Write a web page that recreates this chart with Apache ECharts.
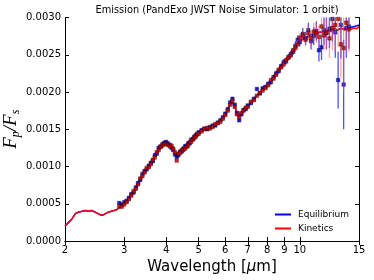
<!DOCTYPE html>
<html>
<head>
<meta charset="utf-8">
<script src="https://cdn.jsdelivr.net/npm/echarts@6/dist/echarts.min.js"></script>
<style>html,body{margin:0;padding:0;background:#fff;}#c{width:374px;height:280px;}</style>
</head>
<body>
<div id="c"></div>
<script>
const xTicks = [2, 3, 4, 5, 6, 7, 8, 9, 10, 15];

const modelWl = [2.0,2.05,2.1,2.15,2.2,2.25,2.3,2.35,2.4,2.45,2.5,2.55,2.6,2.65,2.7,2.75,2.8,2.85,2.9,2.95,
  3.0,3.1,3.2,3.3,3.4,3.5,3.6,3.7,3.8,3.9,4.0,4.05,4.1,4.15,4.2,4.25,4.3,4.35,4.4,4.5,
  4.6,4.7,4.8,4.9,5.0,5.2,5.4,5.6,5.8,6.0,6.1,6.2,6.25,6.3,6.4,6.5,6.6,6.7,6.8,7.0,
  7.2,7.4,7.6,7.8,8.0,8.3,8.6,8.9,9.2,9.5,9.8,10.0,10.3,10.6,10.9,11.2,11.5,11.8,12.1,12.4,
  12.7,13.0,13.3,13.6,13.9,14.2,14.5,14.8,15.0];

const kineticsModel = [0.00020,0.00025,0.00030,0.00037,0.00039,0.00040,0.00041,0.00040,0.00041,0.00039,0.00037,0.00035,0.00035,0.00037,0.00039,0.00040,0.00041,0.00042,0.00044,0.00046,
  0.00049,0.00057,0.00066,0.00077,0.00088,0.00097,0.00104,0.00113,0.00123,0.00129,0.00131,0.00130,0.00128,0.00128,0.00124,0.00119,0.00114,0.00116,0.00119,0.00123,
  0.00127,0.00132,0.00136,0.00141,0.00145,0.00150,0.00152,0.00156,0.00161,0.00170,0.00176,0.00184,0.00188,0.00187,0.00181,0.00171,0.00166,0.00171,0.00175,0.00181,
  0.00187,0.00194,0.00199,0.00204,0.00209,0.00218,0.00229,0.00238,0.00245,0.00254,0.00264,0.00268,0.00272,0.00274,0.00276,0.00278,0.00281,0.00279,0.00283,0.00281,
  0.00285,0.00283,0.00286,0.00283,0.00286,0.00284,0.00286,0.00285,0.00288];

const equilibriumModel = [0.00020,0.00025,0.00030,0.00037,0.00039,0.00040,0.00041,0.00040,0.00041,0.00039,0.00037,0.00035,0.00035,0.00037,0.00039,0.00040,0.00041,0.00042,0.00045,0.00047,
  0.00050,0.00058,0.00066,0.00077,0.00088,0.00097,0.00104,0.00113,0.00123,0.00129,0.00131,0.00130,0.00128,0.00128,0.00124,0.00119,0.00114,0.00116,0.00119,0.00123,
  0.00127,0.00132,0.00136,0.00141,0.00145,0.00150,0.00152,0.00156,0.00161,0.00170,0.00176,0.00184,0.00188,0.00187,0.00181,0.00171,0.00166,0.00171,0.00175,0.00181,
  0.00187,0.00194,0.00199,0.00204,0.00209,0.00218,0.00229,0.00238,0.00245,0.00254,0.00264,0.00268,0.00273,0.00275,0.00277,0.00279,0.00280,0.00281,0.00282,0.00283,
  0.00283,0.00284,0.00285,0.00285,0.00286,0.00287,0.00288,0.00289,0.00290];

const pointWl = [2.90,2.95,3.00,3.05,3.10,3.15,3.20,3.25,3.30,3.35,3.40,3.45,3.50,3.55,3.60,3.65,3.70,3.75,3.80,3.85,
  3.90,3.95,4.00,4.05,4.10,4.15,4.20,4.25,4.30,4.35,4.40,4.45,4.50,4.55,4.60,4.65,4.70,4.75,4.80,4.85,
  4.90,4.95,5.00,
  5.1,5.2,5.3,5.4,5.5,5.6,5.7,5.8,5.9,6.0,6.1,6.2,6.3,6.4,6.5,6.6,6.7,6.8,6.9,7.0,
  7.15,7.3,7.45,7.6,7.75,7.9,8.05,8.2,8.35,8.5,8.65,8.8,8.95,9.1,9.25,9.4,9.55,9.7,9.85,10.0,
  10.2,10.4,10.6,10.8,11.0,11.2,11.4,11.6,11.8,12.0,
  12.25,12.5,12.75,13.0,13.25,13.5,13.75,14.0];

const equilibriumPts = [0.00051,0.00049,0.00052,0.00054,0.00058,0.00063,0.00065,0.00072,0.00078,0.00082,0.00090,0.00094,0.00096,0.00101,0.00105,0.00107,0.00115,0.00117,0.00125,0.00127,
  0.00130,0.00132,0.00133,0.00131,0.00129,0.00125,0.00122,0.00116,0.00113,0.00115,0.00120,0.00120,0.00124,0.00127,0.00128,0.00131,0.00131,0.00136,0.00137,0.00140,
  0.00142,0.00143,0.00146,
  0.00149,0.00151,0.00150,0.00153,0.00155,0.00155,0.00159,0.00162,0.00166,0.00171,0.00177,0.00186,0.00191,0.00183,0.00172,0.00162,0.00170,0.00176,0.00177,0.00182,
  0.00185,0.00191,0.00204,0.00198,0.00205,0.00207,0.00211,0.00213,0.00220,0.00225,0.00228,0.00235,0.00240,0.00241,0.00247,0.00251,0.00254,0.00262,0.00270,0.00267,
  0.00278,0.00272,0.00283,0.00268,0.00275,0.00282,0.00256,0.00260,0.00283,0.00279,
  0.00285,0.00298,0.00280,0.00216,0.00290,0.00210,0.00286,0.00288];

const kineticsPts = [0.00047,0.00046,0.00049,0.00052,0.00056,0.00061,0.00067,0.00070,0.00076,0.00084,0.00087,0.00092,0.00098,0.00099,0.00103,0.00109,0.00112,0.00119,0.00122,0.00126,
  0.00128,0.00130,0.00130,0.00129,0.00127,0.00128,0.00124,0.00119,0.00108,0.00117,0.00118,0.00122,0.00122,0.00124,0.00126,0.00128,0.00133,0.00133,0.00136,0.00138,
  0.00140,0.00144,0.00144,
  0.00147,0.00150,0.00152,0.00151,0.00153,0.00157,0.00158,0.00160,0.00164,0.00169,0.00175,0.00183,0.00188,0.00180,0.00170,0.00166,0.00172,0.00175,0.00179,0.00180,
  0.00187,0.00189,0.00195,0.00199,0.00202,0.00205,0.00209,0.00216,0.00218,0.00223,0.00230,0.00233,0.00237,0.00243,0.00246,0.00249,0.00256,0.00259,0.00264,0.00273,
  0.00276,0.00270,0.00279,0.00272,0.00281,0.00279,0.00274,0.00288,0.00276,0.00280,
  0.00272,0.00286,0.00290,0.00298,0.00264,0.00259,0.00293,0.00284];

const pointErr = [0.000025,0.000025,0.000025,0.00002,0.00002,0.00002,0.00002,0.00002,0.00002,0.00002,0.00002,0.00002,0.00002,0.00002,0.00002,0.00002,0.00002,0.00002,0.00002,0.00002,
  0.00002,0.00002,0.00002,0.00002,0.00002,0.00002,0.00002,0.00002,0.00002,0.00002,0.00002,0.00002,0.000025,0.000025,0.000025,0.000025,0.000025,0.000025,0.000025,0.000025,
  0.000025,0.000025,0.000025,
  0.00002,0.00002,0.00002,0.00002,0.00002,0.00002,0.00002,0.00002,0.00002,0.00002,0.00002,0.00002,0.00002,0.00002,0.00002,0.00002,0.00002,0.00002,0.00002,0.00002,
  0.00002,0.00002,0.00002,0.00002,0.00002,0.00002,0.00003,0.00003,0.00003,0.00003,0.00003,0.00003,0.00004,0.00004,0.00004,0.00004,0.00004,0.00006,0.00006,0.00006,
  0.00008,0.00009,0.00010,0.00011,0.00012,0.00013,0.00015,0.00017,0.00020,0.00022,
  0.00026,0.00030,0.00034,0.00038,0.00045,0.00060,0.00040,0.00030];

const zipXY = (xs, ys) => xs.map((x, i) => [x, ys[i]]);
const zipErr = (xs, ys, es) => xs.map((x, i) => [x, ys[i], es[i]]);

function errRender(color, opacity) {
  return function (params, api) {
    const x = api.value(0), y = api.value(1), e = api.value(2);
    const p1 = api.coord([x, y - e]);
    const p2 = api.coord([x, y + e]);
    return {
      type: 'line',
      shape: { x1: p1[0], y1: p1[1], x2: p2[0], y2: p2[1] },
      style: { stroke: color, lineWidth: 1.3, opacity: opacity }
    };
  };
}

const FONT = 'DejaVu Sans';
const chart = echarts.init(document.getElementById('c'), null, { renderer: 'canvas' });
const axisLineStyle = { color: '#000', width: 1 };

chart.setOption({
  animation: false,
  backgroundColor: '#fff',
  textStyle: { fontFamily: FONT },
  title: {
    text: 'Emission (PandExo JWST Noise Simulator: 1 orbit)',
    left: 212, top: 0, textAlign: 'center',
    textStyle: { fontFamily: FONT, fontSize: 9.8, fontWeight: 'normal', color: '#000' }
  },
  grid: { left: 65, right: 15, top: 17.5, bottom: 39, containLabel: false, outerBoundsMode: 'none' },
  legend: {
    orient: 'vertical', left: 270, top: 205, itemWidth: 16, itemHeight: 2, itemGap: 5,
    textStyle: { fontFamily: FONT, fontSize: 9, color: '#000', padding: [0, 0, 0, 2] },
    data: [{ name: 'Equilibrium', icon: 'rect' }, { name: 'Kinetics', icon: 'rect' }]
  },
  xAxis: [{
    type: 'log', logBase: 10, min: 2, max: 15,
    name: 'Wavelength [{m|μ}m]', nameLocation: 'middle', nameGap: 19, nameMoveOverlap: false,
    nameTextStyle: { fontFamily: FONT, fontSize: 15, color: '#000',
      rich: { m: { fontFamily: 'DejaVu Sans', fontStyle: 'italic', fontSize: 15, color: '#000' } } },
    axisLine: { show: true, lineStyle: axisLineStyle },
    axisTick: { show: true, inside: true, length: 4, lineStyle: axisLineStyle, customValues: xTicks },
    axisLabel: { fontFamily: FONT, fontSize: 10, color: '#000', margin: 4, customValues: xTicks },
    minorTick: { show: false }, splitLine: { show: false }
  }, {
    type: 'log', logBase: 10, min: 2, max: 15, position: 'top',
    axisLine: { show: true, lineStyle: axisLineStyle },
    axisTick: { show: true, inside: true, length: 4, lineStyle: axisLineStyle, customValues: xTicks },
    axisLabel: { show: false }, splitLine: { show: false }
  }],
  yAxis: [{
    type: 'value', min: 0, max: 0.003, interval: 0.0005,
    name: '{i|F}{s|p}{i|/F}{s|s}', nameLocation: 'middle', nameGap: 43, nameRotate: 90, nameMoveOverlap: false,
    nameTextStyle: { rich: {
      i: { fontFamily: 'Liberation Serif', fontStyle: 'italic', fontSize: 19, lineHeight: 22, color: '#000' },
      s: { fontFamily: 'Liberation Serif', fontStyle: 'italic', fontSize: 12, lineHeight: 10, verticalAlign: 'bottom', color: '#000' }
    } },
    axisLine: { show: true, lineStyle: axisLineStyle },
    axisTick: { show: true, inside: true, length: 4, lineStyle: axisLineStyle },
    axisLabel: { fontFamily: FONT, fontSize: 10, color: '#000', margin: 4, formatter: v => v.toFixed(4) },
    splitLine: { show: false }
  }, {
    type: 'value', min: 0, max: 0.003, interval: 0.0005, position: 'right',
    axisLine: { show: true, lineStyle: axisLineStyle },
    axisTick: { show: true, inside: true, length: 4, lineStyle: axisLineStyle },
    axisLabel: { show: false }, splitLine: { show: false }
  }],
  series: [
    { name: 'Equilibrium', type: 'line', data: zipXY(modelWl, equilibriumModel), showSymbol: false,
      lineStyle: { color: '#0000ff', width: 1.5 }, itemStyle: { color: '#0000ff' }, z: 2 },
    { name: 'Kinetics', type: 'line', data: zipXY(modelWl, kineticsModel), showSymbol: false,
      lineStyle: { color: '#ff0000', width: 1.5 }, itemStyle: { color: '#ff0000' }, z: 3 },
    { name: 'eqErr', type: 'custom', data: zipErr(pointWl, equilibriumPts, pointErr), encode: { x: 0, y: 1 },
      renderItem: errRender('#3030ff', 0.85), clip: true, z: 4 },
    { name: 'eqPts', type: 'scatter', data: zipXY(pointWl, equilibriumPts), symbol: 'rect', symbolSize: 3.5,
      itemStyle: { color: '#0000c8', borderColor: '#000040', borderWidth: 0.5 }, clip: true, z: 5 },
    { name: 'kinErr', type: 'custom', data: zipErr(pointWl, kineticsPts, pointErr), encode: { x: 0, y: 1 },
      renderItem: errRender('#ff5050', 0.55), clip: true, z: 6 },
    { name: 'kinPts', type: 'scatter', data: zipXY(pointWl, kineticsPts), symbol: 'rect', symbolSize: 3.5,
      itemStyle: { color: '#c80000', borderColor: '#300000', borderWidth: 0.5 }, clip: true, z: 7 }
  ]
});
</script>
</body>
</html>
